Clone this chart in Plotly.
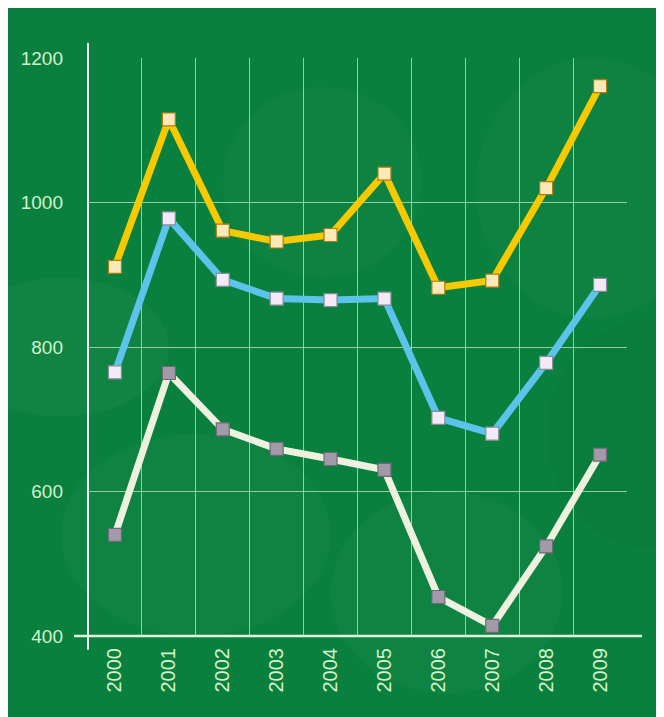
import plotly.graph_objects as go

years = ["2000", "2001", "2002", "2003", "2004", "2005", "2006", "2007", "2008", "2009"]
yellow_vals = [911, 1115, 961, 946, 955, 1040, 882, 892, 1020, 1161]
blue_vals = [765, 978, 893, 867, 865, 867, 702, 680, 778, 886]
white_vals = [540, 764, 686, 659, 645, 630, 454, 414, 524, 651]
y_ticks = [400, 600, 800, 1000, 1200]

BG = "#0a803e"
LABEL = "#d4f2cc"
GRID = "rgba(205,240,200,0.7)"

fig = go.Figure()

series = [
    (yellow_vals, "#f7c900", "#fbe9b8", "#b07a10"),
    (blue_vals, "#5cc3ea", "#f2eaf6", "#8a8a9a"),
    (white_vals, "#eef0e0", "#a29aa8", "#6e6878"),
]
for vals, lc, mfill, mline in series:
    fig.add_trace(go.Scatter(
        x=years, y=vals, mode="lines+markers",
        line=dict(color=lc, width=7),
        marker=dict(symbol="square", size=13, color=mfill,
                    line=dict(color=mline, width=1.2)),
        showlegend=False, hoverinfo="skip",
    ))

shapes = []
# soft background circles (decorative)
circles = [
    (-0.25, 0.38, 0.15, 0.62, 0.03, "255,255,255"),
    (-0.05, 0.0, 0.45, 0.35, 0.025, "255,255,255"),
    (0.45, -0.1, 0.88, 0.25, 0.025, "255,255,255"),
    (0.72, 0.55, 1.15, 1.0, 0.02, "255,255,255"),
    (0.85, 0.15, 1.25, 0.55, 0.025, "0,40,10"),
    (0.25, 0.62, 0.62, 0.95, 0.02, "255,255,255"),
]
for x0, y0, x1, y1, op, rgb in circles:
    shapes.append(dict(type="circle", xref="paper", yref="paper",
                       x0=x0, y0=y0, x1=x1, y1=y1, layer="below",
                       fillcolor="rgba(%s,%s)" % (rgb, op), line=dict(width=0)))
# axis lines extending beyond plot area
shapes.append(dict(type="line", xref="paper", yref="paper", x0=0, x1=0,
                   y0=-0.024, y1=1.026, line=dict(color="#f4fbf0", width=2)))
shapes.append(dict(type="line", xref="paper", yref="paper", x0=-0.026, x1=1.028,
                   y0=0, y1=0, line=dict(color="#e0f4da", width=2.5)))

fig.update_layout(
    width=656, height=709,
    margin=dict(l=80, r=37, t=50, b=81),
    paper_bgcolor=BG, plot_bgcolor=BG,
    shapes=shapes,
    font=dict(family="Liberation Sans, Arial, sans-serif", color=LABEL, size=19),
)
fig.update_xaxes(
    type="category", categoryorder="array", categoryarray=years,
    range=[-0.5, 9.5], tickson="boundaries", ticks="",
    showgrid=True, gridcolor=GRID, gridwidth=1,
    tickangle=-90, tickfont=dict(size=20, color=LABEL),
    showline=False, zeroline=False, ticklabelstandoff=7,
)
fig.update_yaxes(
    range=[400, 1200], tickvals=y_ticks, ticktext=[str(v) for v in y_ticks],
    showgrid=True, gridcolor=GRID, gridwidth=1, ticks="",
    tickfont=dict(size=19, color=LABEL), showline=False, zeroline=False,
    ticklabelstandoff=24,
)

fig.write_html("out.html")
